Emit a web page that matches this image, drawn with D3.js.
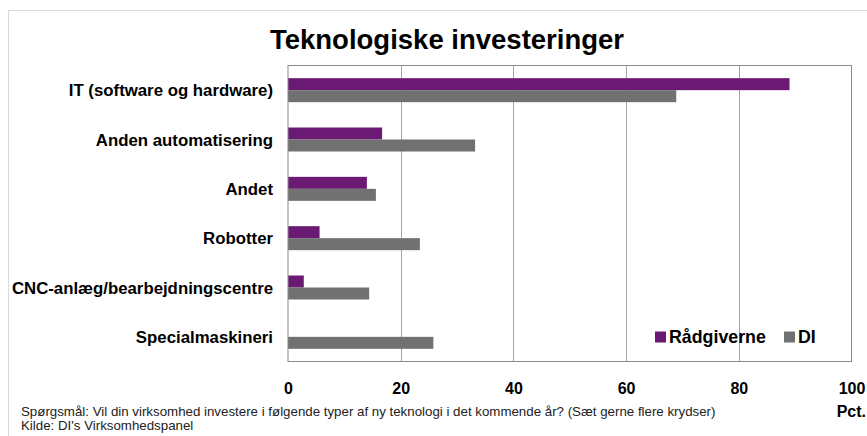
<!DOCTYPE html>
<html><head><meta charset="utf-8">
<script src="https://cdn.jsdelivr.net/npm/d3@7"></script>
<style>body{margin:0;background:#fff;}svg{display:block;font-family:"Liberation Sans",Arial,sans-serif;}</style>
</head><body>
<svg id="c" width="867" height="436"></svg>
<script>
const categories = ["IT (software og hardware)","Anden automatisering","Andet","Robotter","CNC-anlæg/bearbejdningscentre","Specialmaskineri"];
const seriesNames = ["Rådgiverne","DI"];
const raadgiverne = [89,16.7,14,5.6,2.8,0];
const di = [68.9,33.2,15.6,23.4,14.4,25.8];
const xTicks = [0,20,40,60,80,100];
const colors = ["#6a1a72","#717171"];
const title = "Teknologiske investeringer";
const unit = "Pct.";
const notes = ["Spørgsmål: Vil din virksomhed investere i følgende typer af ny teknologi i det kommende år? (Sæt gerne flere krydser)","Kilde: DI's Virksomhedspanel"];

const svg = d3.select("#c");
const m = {l:288, r:851.5, t:65.5, b:361.5};
svg.append("rect").attr("x",8.5).attr("y",10.5).attr("width",900).attr("height",500)
  .attr("fill","none").attr("stroke","#d9d9d9");

const x = d3.scaleLinear().domain([0,100]).range([m.l,m.r]);
const y = d3.scaleBand().domain(categories).range([m.t,m.b]);
const inner = d3.scaleBand().domain(seriesNames).range([y.bandwidth()/2-12, y.bandwidth()/2+12]);

svg.append("text").attr("x",447).attr("y",49).attr("text-anchor","middle")
  .attr("font-size","27.5px").attr("font-weight","bold").text(title);

// gridlines
svg.append("g").selectAll("line").data(xTicks.slice(1,-1)).join("line")
  .attr("x1",d=>Math.round(x(d))+0.5).attr("x2",d=>Math.round(x(d))+0.5)
  .attr("y1",m.t).attr("y2",m.b).attr("stroke","#a6a6a6");

const series = [raadgiverne, di];
series.forEach((vals,si)=>{
  svg.append("g").selectAll("rect").data(categories).join("rect")
    .attr("x",x(0)).attr("y",(c)=>y(c)+inner(seriesNames[si]))
    .attr("width",(c,i)=>x(vals[i])-x(0)).attr("height",inner.bandwidth())
    .attr("fill",colors[si]);
});

svg.append("rect").attr("x",m.l).attr("y",m.t).attr("width",m.r-m.l).attr("height",m.b-m.t)
  .attr("fill","none").attr("stroke","#8c8c8c");

// y labels
svg.append("g").selectAll("text").data(categories).join("text")
  .attr("x",273).attr("y",c=>y(c)+y.bandwidth()/2).attr("dy","0.36em")
  .attr("text-anchor","end").attr("font-size","16.8px").attr("font-weight","bold").text(d=>d);

// x axis labels
const xa = svg.append("g").attr("transform",`translate(0,${m.b})`)
  .call(d3.axisBottom(x).tickValues(xTicks).tickSize(0).tickPadding(21));
xa.select(".domain").remove();
xa.selectAll("text").attr("font-size","16px").attr("font-weight","bold")
  .attr("font-family","Liberation Sans,Arial,sans-serif").attr("fill","#000");
svg.append("text").attr("x",866).attr("y",417).attr("text-anchor","end")
  .attr("font-size","16px").attr("font-weight","bold").text(unit);

// legend
const lg = [{n:seriesNames[0],x:655,c:colors[0]},{n:seriesNames[1],x:784,c:colors[1]}];
const lgG = svg.append("g").selectAll("g").data(lg).join("g");
lgG.append("rect").attr("x",d=>d.x).attr("y",331.5).attr("width",11).attr("height",11).attr("fill",d=>d.c);
lgG.append("text").attr("x",d=>d.x+14).attr("y",343).attr("font-size","17.8px").attr("font-weight","bold").text(d=>d.n);

// notes
svg.append("g").selectAll("text").data(notes).join("text")
  .attr("x",21).attr("y",(d,i)=>416+i*14).attr("font-size","13.3px").attr("fill","#222").text(d=>d);
</script>
</body></html>
